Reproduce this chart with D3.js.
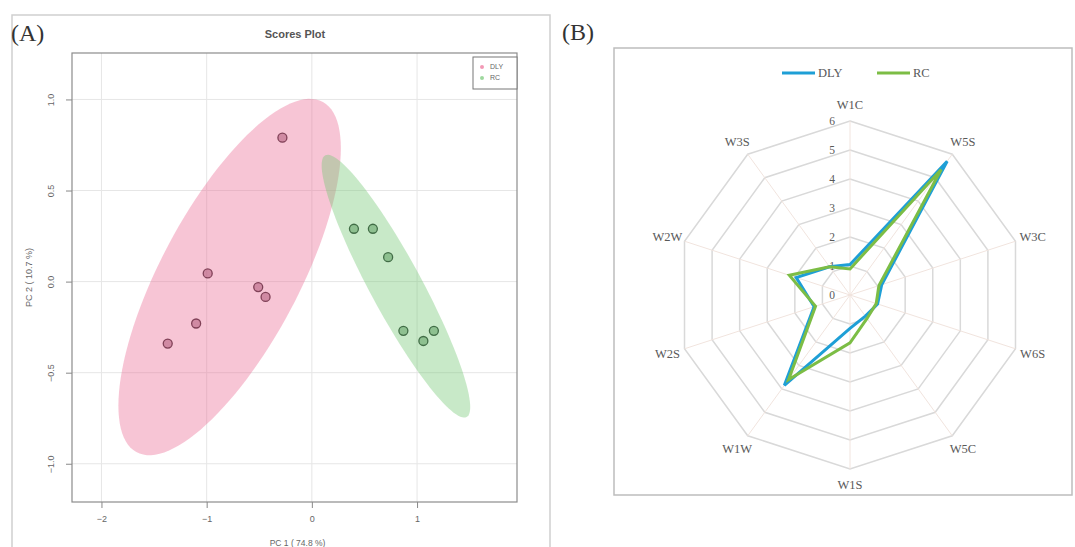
<!DOCTYPE html>
<html>
<head>
<meta charset="utf-8">
<script src="https://cdn.jsdelivr.net/npm/d3@7"></script>
<style>
  html, body { margin: 0; padding: 0; background: #fff; }
  svg { display: block; }
</style>
</head>
<body>
<svg id="chart" width="1075" height="547"></svg>
<script>
// ---- data ----
const groups = ["DLY", "RC"];

// (A) PCA scores
const dlyPC1 = [-0.28, -0.99, -0.51, -0.44, -1.10, -1.37];
const dlyPC2 = [0.79, 0.045, -0.03, -0.084, -0.23, -0.34];
const rcPC1 = [0.40, 0.58, 0.725, 0.87, 1.06, 1.16];
const rcPC2 = [0.29, 0.29, 0.134, -0.27, -0.326, -0.27];
const pcXTicks = [-2, -1, 0, 1];
const pcYTicks = [1.0, 0.5, 0.0, -0.5, -1.0];

// (B) e-nose radar
const sensors = ["W1C", "W5S", "W3C", "W6S", "W5C", "W1S", "W1W", "W2S", "W2W", "W3S"];
const dlyValues = [1.05, 5.7, 1.15, 1.0, 0.9, 1.15, 3.85, 1.3, 1.95, 1.2];
const rcValues = [0.9, 5.35, 1.05, 0.95, 1.0, 1.65, 3.6, 1.25, 2.2, 1.2];
const radarTicks = [0, 1, 2, 3, 4, 5, 6];

const svg = d3.select("#chart");

// ================= panel A =================
const A = { left: 72, right: 517, top: 53, bottom: 502 };
const x = d3.scaleLinear().domain([-2.28, 1.95]).range([A.left, A.right]);
const y = d3.scaleLinear().domain([-1.21, 1.255]).range([A.bottom, A.top]);

const sans = "'Liberation Sans', Arial, sans-serif";
const serif = "'Liberation Serif', 'Times New Roman', serif";

// outer frame of panel A
svg.append("rect")
  .attr("x", 12).attr("y", 15).attr("width", 538).attr("height", 545)
  .attr("fill", "none").attr("stroke", "#cfcfcf").attr("stroke-width", 1.5);

svg.append("text")
  .attr("x", 11).attr("y", 41)
  .attr("font-family", serif).attr("font-size", 24).attr("fill", "#333")
  .text("(A)");

svg.append("text")
  .attr("x", 295).attr("y", 38)
  .attr("text-anchor", "middle")
  .attr("font-family", sans).attr("font-size", 11).attr("font-weight", "bold").attr("fill", "#555")
  .text("Scores Plot");

// grid
const gA = svg.append("g");
gA.selectAll("line.vx").data(pcXTicks).enter().append("line")
  .attr("x1", d => x(d)).attr("x2", d => x(d))
  .attr("y1", A.top).attr("y2", A.bottom)
  .attr("stroke", "#e6e6e6").attr("stroke-width", 1);
gA.selectAll("line.hy").data(pcYTicks).enter().append("line")
  .attr("y1", d => y(d)).attr("y2", d => y(d))
  .attr("x1", A.left).attr("x2", A.right)
  .attr("stroke", "#e6e6e6").attr("stroke-width", 1);

// 95% confidence ellipse from the points' covariance
function ellipsePoints(xs, ys) {
  const n = xs.length;
  const mx = d3.mean(xs), my = d3.mean(ys);
  let sxx = 0, syy = 0, sxy = 0;
  for (let i = 0; i < n; i++) {
    sxx += (xs[i] - mx) ** 2;
    syy += (ys[i] - my) ** 2;
    sxy += (xs[i] - mx) * (ys[i] - my);
  }
  sxx /= n - 1; syy /= n - 1; sxy /= n - 1;
  // cholesky of covariance
  const l11 = Math.sqrt(sxx), l21 = sxy / l11, l22 = Math.sqrt(syy - l21 * l21);
  const k = Math.sqrt(5.991); // chi-square 2 dof, 0.95
  return d3.range(0, 361, 3).map(a => {
    const t = a * Math.PI / 180, c = Math.cos(t), s = Math.sin(t);
    return [mx + k * l11 * c, my + k * (l21 * c + l22 * s)];
  });
}

const ellipseLine = d3.line().x(d => x(d[0])).y(d => y(d[1])).curve(d3.curveLinearClosed);
const ellipseFill = { DLY: "#ec6e96", RC: "#75c875" };
const pointFill = { DLY: "#b05a7a", RC: "#5e9e62" };
const pointStroke = { DLY: "#6e2f45", RC: "#2f5a35" };
const scoreSets = [
  { g: "DLY", xs: dlyPC1, ys: dlyPC2 },
  { g: "RC", xs: rcPC1, ys: rcPC2 }
];

gA.selectAll("path.ell").data(scoreSets).enter().append("path")
  .attr("d", d => ellipseLine(ellipsePoints(d.xs, d.ys)))
  .attr("fill", d => ellipseFill[d.g]).attr("fill-opacity", 0.4)
  .attr("stroke", "none");

scoreSets.forEach(s => {
  gA.selectAll(null).data(s.xs.map((v, i) => [v, s.ys[i]])).enter().append("circle")
    .attr("cx", d => x(d[0])).attr("cy", d => y(d[1])).attr("r", 4.5)
    .attr("fill", pointFill[s.g]).attr("fill-opacity", 0.55)
    .attr("stroke", pointStroke[s.g]).attr("stroke-width", 1.3).attr("stroke-opacity", 0.85);
});

// plot frame
gA.append("rect")
  .attr("x", A.left).attr("y", A.top)
  .attr("width", A.right - A.left).attr("height", A.bottom - A.top)
  .attr("fill", "none").attr("stroke", "#8c8c8c").attr("stroke-width", 1.2);

// axes
const xAxis = d3.axisBottom(x).tickValues(pcXTicks).tickSize(6).tickPadding(8).tickFormat(d3.format("d"));
const yAxis = d3.axisLeft(y).tickValues(pcYTicks).tickSize(6).tickPadding(6).tickFormat(d3.format(".1f"));
const gx = gA.append("g").attr("transform", `translate(0,${A.bottom})`).call(xAxis);
const gy = gA.append("g").attr("transform", `translate(${A.left},0)`).call(yAxis);
[gx, gy].forEach(g => {
  g.select(".domain").remove();
  g.selectAll(".tick line").attr("stroke", "#888");
  g.selectAll(".tick text").attr("fill", "#666").attr("font-family", sans).attr("font-size", 9);
});
gy.selectAll(".tick text")
  .attr("text-anchor", "middle").attr("x", 0).attr("dy", 0)
  .attr("transform", d => `translate(-18,0) rotate(-90)`);

svg.append("text")
  .attr("transform", `translate(32,${(A.top + A.bottom) / 2}) rotate(-90)`)
  .attr("text-anchor", "middle")
  .attr("font-family", sans).attr("font-size", 9).attr("fill", "#666")
  .text("PC 2 ( 10.7 %)");
svg.append("text")
  .attr("x", (A.left + A.right) / 2 + 3).attr("y", 546)
  .attr("text-anchor", "middle")
  .attr("font-family", sans).attr("font-size", 8.5).attr("fill", "#666")
  .text("PC 1 ( 74.8 %)");

// legend of panel A
const lgA = gA.append("g").attr("transform", "translate(473,57)");
lgA.append("rect").attr("width", 44).attr("height", 32)
  .attr("fill", "#fff").attr("stroke", "#777").attr("stroke-width", 1);
lgA.selectAll("g").data(groups).enter().append("g")
  .attr("transform", (d, i) => `translate(9,${10 + i * 11})`)
  .each(function(d) {
    const g = d3.select(this);
    g.append("circle").attr("r", 2).attr("fill", ellipseFill[d]).attr("fill-opacity", 0.7);
    g.append("text").attr("x", 8).attr("dy", "0.35em")
      .attr("font-family", sans).attr("font-size", 7).attr("fill", "#666").text(d);
  });

// ================= panel B =================
const cx = 850, cy = 295;
const r = d3.scaleLinear().domain([0, 6]).range([0, 174]);
const angle = i => i * 2 * Math.PI / sensors.length;
const pt = (i, v) => [cx + r(v) * Math.sin(angle(i)), cy - r(v) * Math.cos(angle(i))];

svg.append("rect")
  .attr("x", 614).attr("y", 48).attr("width", 458).attr("height", 447)
  .attr("fill", "none").attr("stroke", "#bdbdbd").attr("stroke-width", 1.5);

svg.append("text")
  .attr("x", 562).attr("y", 40)
  .attr("font-family", serif).attr("font-size", 24).attr("fill", "#333")
  .text("(B)");

const gB = svg.append("g");

// rings
gB.selectAll("polygon.ring").data(radarTicks.filter(t => t > 0)).enter().append("polygon")
  .attr("points", t => sensors.map((s, i) => pt(i, t).join(",")).join(" "))
  .attr("fill", "none").attr("stroke", "#d9d9d9").attr("stroke-width", 1.5);

// spokes
gB.selectAll("line.spoke").data(sensors).enter().append("line")
  .attr("x1", cx).attr("y1", cy)
  .attr("x2", (d, i) => pt(i, 6)[0]).attr("y2", (d, i) => pt(i, 6)[1])
  .attr("stroke", "#f1e4de").attr("stroke-width", 1);

// tick labels
gB.selectAll("text.tick").data(radarTicks).enter().append("text")
  .attr("x", cx - 18).attr("y", t => cy - r(t))
  .attr("dy", "0.35em").attr("text-anchor", "middle")
  .attr("font-family", serif).attr("font-size", 11.5).attr("fill", "#595959")
  .text(d => d);

// category labels
gB.selectAll("text.cat").data(sensors).enter().append("text")
  .attr("x", (d, i) => cx + (r(6) + 18) * Math.sin(angle(i)))
  .attr("y", (d, i) => cy - (r(6) + 16) * Math.cos(angle(i)))
  .attr("dy", "0.35em").attr("text-anchor", "middle")
  .attr("font-family", serif).attr("font-size", 12.5).attr("fill", "#595959")
  .text(d => d);

// series
const radarColor = { DLY: "#1e9fd6", RC: "#7cbd45" };
const radarSets = [
  { g: "DLY", values: dlyValues },
  { g: "RC", values: rcValues }
];
const radarLine = d3.lineRadial()
  .angle((d, i) => angle(i)).radius(d => r(d))
  .curve(d3.curveLinearClosed);
gB.selectAll("path.series").data(radarSets).enter().append("path")
  .attr("transform", `translate(${cx},${cy})`)
  .attr("d", d => radarLine(d.values))
  .attr("fill", "none")
  .attr("stroke", d => radarColor[d.g]).attr("stroke-width", 3)
  .attr("stroke-linejoin", "miter");

// legend of panel B
const lgB = gB.append("g").attr("transform", "translate(782,73)");
const lgItems = [{ g: "DLY", x0: 0 }, { g: "RC", x0: 95 }];
lgB.selectAll("g").data(lgItems).enter().append("g")
  .attr("transform", d => `translate(${d.x0},0)`)
  .each(function(d) {
    const g = d3.select(this);
    g.append("line").attr("x1", 0).attr("x2", 33).attr("y1", 0).attr("y2", 0)
      .attr("stroke", radarColor[d.g]).attr("stroke-width", 3);
    g.append("text").attr("x", 36).attr("dy", "0.35em")
      .attr("font-family", serif).attr("font-size", 12.5).attr("fill", "#595959").text(d.g);
  });
</script>
</body>
</html>
